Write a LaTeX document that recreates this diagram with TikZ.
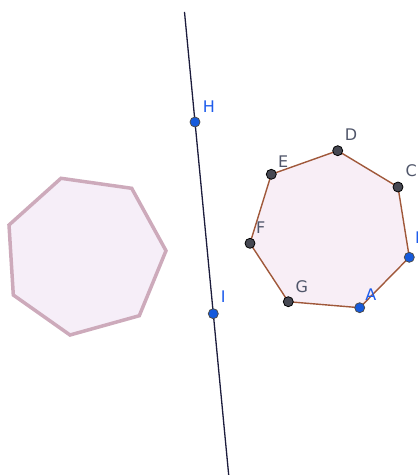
\documentclass[tikz,border=0pt]{standalone}
\usepackage{fontspec}
\setmainfont{DejaVu Sans}
\usepackage{xcolor}
\usepackage{tikz}
\usetikzlibrary{positioning, calc}

\definecolor{edgebrown}{RGB}{160,88,58}
\definecolor{fillpink}{RGB}{248,238,246}
\definecolor{imgedge}{RGB}{205,170,187}
\definecolor{imgfill}{RGB}{246,238,248}
\definecolor{linenavy}{RGB}{28,28,60}
\definecolor{ptblue}{RGB}{21,90,220}
\definecolor{ptgray}{RGB}{70,72,82}
\definecolor{lblgray}{RGB}{80,86,106}
\definecolor{lblblue}{RGB}{30,92,235}

\begin{document}
\begin{tikzpicture}[x=1pt, y=-1pt,
  freept/.style={circle, inner sep=0pt, minimum size=10pt, fill=ptblue, draw=black!70, line width=0.8pt},
  deppt/.style={circle, inner sep=0pt, minimum size=10pt, fill=ptgray, draw=black, line width=0.8pt},
  freelbl/.style={text=lblblue, font=\fontsize{16}{18}\selectfont, inner sep=0pt},
  deplbl/.style={text=lblgray, font=\fontsize{16}{18}\selectfont, inner sep=0pt}]
\useasboundingbox (0,0) rectangle (418,475);
% points of the line and of the heptagon
\coordinate (H) at (195,122);
\coordinate (I) at (213.3,313.7);
\coordinate (A) at (359.7,307.7);
\coordinate (B) at (409.3,257.3);
\coordinate (C) at (398,187);
\coordinate (D) at (337.7,150.7);
\coordinate (E) at (271.3,174.3);
\coordinate (F) at (250,243.3);
\coordinate (G) at (288.3,301.7);
% reflected heptagon
\coordinate (A') at (61,178.3);
\coordinate (B') at (131.7,188.3);
\coordinate (C') at (166,250.7);
\coordinate (D') at (139.3,315.7);
\coordinate (E') at (70,335);
\coordinate (F') at (13.3,295);
\coordinate (G') at (9,225);
\filldraw[fill=imgfill, draw=imgedge, line width=3.5pt, line join=miter] (A') -- (B') -- (C') -- (D') -- (E') -- (F') -- (G') -- cycle;
\filldraw[fill=fillpink, draw=edgebrown, line width=1.4pt] (A) -- (B) -- (C) -- (D) -- (E) -- (F) -- (G) -- cycle;
% mirror line through H and I
\draw[linenavy, line width=1.3pt] ($(H)!-0.574!(I)$) -- ($(H)!1.841!(I)$);
% dots
\foreach \p in {C,D,E,F,G} \node[deppt] (pt\p) at (\p) {};
\foreach \p in {A,B,H,I} \node[freept] (pt\p) at (\p) {};
% labels
\node[deplbl] (lD) at (351,135) {D};
\node[deplbl] (lC) at (411.2,170.8) {C};
\node[deplbl] (lE) at (283.3,161.7) {E};
\node[deplbl] (lF) at (260.8,227.5) {F};
\node[deplbl] (lG) at (301.7,286.3) {G};
\node[freelbl] (lA) at (370.8,294.2) {A};
\node[freelbl, anchor=west] (lB) at (415,238) {B};
\node[freelbl] (lH) at (208.8,106.3) {H};
\node[freelbl] (lI) at (223.3,297) {I};
\end{tikzpicture}
\end{document}
